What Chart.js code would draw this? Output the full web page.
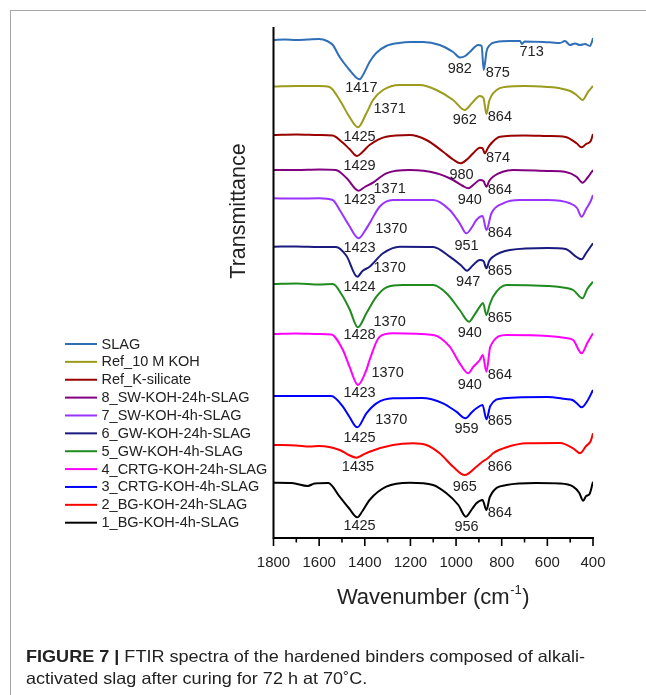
<!DOCTYPE html>
<html><head><meta charset="utf-8">
<script src="https://cdn.jsdelivr.net/npm/chart.js@4.4.1/dist/chart.umd.min.js"></script>
<style>
html,body{margin:0;padding:0;background:#fff;}
#wrap{position:relative;width:646px;height:695px;overflow:hidden;background:#fff;}
#c{position:absolute;left:0;top:0;}
#frame{position:absolute;left:10px;top:10px;width:660px;height:700px;border-top:1.5px solid #a6a6a6;border-left:1.5px solid #a6a6a6;}
#cap{position:absolute;left:26px;top:644.7px;font-family:Arial,"Liberation Sans",Helvetica,sans-serif;font-size:16.5px;line-height:22.6px;color:#222;white-space:nowrap;transform-origin:0 0;}
#cap span{display:inline-block;}
</style></head>
<body><div id="wrap"><div id="frame"></div><canvas id="c" width="646" height="695"></canvas>
<div id="cap"><span id="l1"><b>FIGURE 7 |</b> FTIR spectra of the hardened binders composed of alkali-</span><br><span>activated slag after curing for 72 h at 70˚C.</span></div></div>
<script>
// ---- data: [wavenumber (cm-1), transmittance (a.u., stacked offset)] ----
const seriesNames = ['SLAG','Ref_10 M KOH','Ref_K-silicate','8_SW-KOH-24h-SLAG','7_SW-KOH-4h-SLAG','6_GW-KOH-24h-SLAG','5_GW-KOH-4h-SLAG','4_CRTG-KOH-24h-SLAG','3_CRTG-KOH-4h-SLAG','2_BG-KOH-24h-SLAG','1_BG-KOH-4h-SLAG'];
const seriesColors = ['#2e6fb7','#9b9b1c','#990000','#800080','#9933ff','#1a1a80','#1f8b1f','#ff00ff','#0000ff','#ff0000','#000000'];

const slag = [[1800,501],[1750,501.5],[1700,501],[1650,501.5],[1600,502],[1565,500],[1540,496],[1510,484],[1467,471],[1440,464],[1423,461.7],[1408,466],[1379,479],[1350,488],[1306,495],[1250,498],[1200,499],[1145,499],[1072,496],[1013,489],[982,483.5],[960,485],[940,489],[903,496],[888,495],[879,471],[872,480],[867,489],[852,496],[823,499],[764,500],[720,500],[711,497],[700,499.5],[618,499],[580,498.5],[545,498],[523,500],[501,496],[479,497.5],[457,496],[435,497],[413,495],[405,499],[400,503]];
const ref10MKOH = [[1800,454.5],[1700,455],[1600,455],[1555,454],[1510,441],[1467,424],[1430,413.7],[1393,427.7],[1364,441],[1320,451],[1247,456],[1159,456],[1086,451],[1013,441],[962,431],[930,438],[896,445],[880,443],[867,427],[855,440],[838,447.7],[779,454.3],[700,455],[600,454],[545,452.7],[500,450],[472,446],[446,441],[421,449.3],[400,455]];
const refKSilicate = [[1800,406],[1700,406.5],[1600,406],[1541,405.5],[1500,399],[1467,392],[1434,385],[1410,389],[1379,396],[1306,404.3],[1203,406],[1130,401],[1057,389.3],[1010,381],[980,377.7],[950,382],[925,387.7],[896,393.3],[885,393],[874,387.7],[863,392],[852,396],[808,404.3],[700,405.5],[600,405],[520,404],[472,397.7],[450,393.7],[430,397],[410,400],[400,407]];
const sw24h = [[1800,371],[1700,371],[1600,371.5],[1527,371],[1480,363],[1427,350.3],[1400,354],[1364,358.3],[1306,367.7],[1203,371],[1086,367.7],[1013,361],[970,355],[947,352.7],[920,357],[896,361],[880,360],[867,354.3],[855,360],[838,364.3],[750,371],[600,370],[520,369],[472,364.3],[446,358.3],[425,363],[400,371]];
const sw4h = [[1800,342.7],[1700,342.5],[1600,342.7],[1541,341],[1510,331],[1470,316],[1427,302.7],[1400,310],[1379,317.7],[1335,334.3],[1277,341],[1100,341],[1028,331],[984,317.7],[955,307.7],[930,314],[911,321],[884,325],[867,311],[845,327.7],[794,337.7],[720,341],[600,341],[501,337.7],[470,333],[450,324.3],[430,332],[410,340],[400,346]];
const gw24h = [[1800,294.3],[1700,294.5],[1600,294],[1527,294],[1480,285],[1433,264.3],[1410,270],[1379,274.3],[1320,287.7],[1247,294.3],[1100,294],[1028,284.3],[980,276],[952,270.3],[925,276],[896,281],[880,280],[867,272.7],[855,280],[838,284.3],[764,291],[600,293],[520,292],[472,284],[450,281.7],[430,288],[400,297.7]];
const gw4h = [[1800,257],[1700,257.5],[1600,256.5],[1540,257],[1500,246],[1467,232],[1430,213.7],[1393,227.7],[1349,244.3],[1305,253.7],[1233,256],[1100,256],[1042,247.7],[984,231],[943,219.3],[920,226],[896,234.3],[882,238],[867,226],[853,236],[838,244.3],[779,256],[600,255],[545,254],[487,251],[446,242.7],[425,252],[400,259.3]];
const crtg24h = [[1800,207],[1700,207.5],[1600,207],[1547,206.5],[1496,191],[1467,174.3],[1430,156],[1393,171],[1379,181],[1335,204.3],[1277,207.7],[1100,206],[1028,194.3],[984,177.7],[947,167.7],[925,174],[896,181],[883,186],[867,169.3],[850,194.3],[779,206],[600,205],[520,203],[487,201],[450,187.7],[425,198],[400,207.7]];
const crtg4h = [[1800,145],[1700,145],[1600,145],[1547,145],[1496,134.3],[1467,124],[1433,113.7],[1393,127.7],[1349,137.7],[1277,142.7],[1150,143],[1057,137.7],[999,129.3],[959,122.7],[930,129],[911,132.7],[884,136],[867,121.7],[850,135],[794,142.7],[600,144],[520,142],[490,141],[472,138],[450,133.7],[425,140],[400,151]];
const bg24h = [[1800,96],[1700,95.5],[1642,94.5],[1600,95],[1510,91],[1470,86],[1437,83.3],[1410,86],[1379,89.3],[1277,96],[1189,97.7],[1130,96],[1072,87.7],[1013,74.3],[962,66],[911,74.3],[880,80],[867,81.7],[850,85],[838,87.7],[779,93.7],[691,97.7],[545,98],[487,92.7],[457,87.7],[430,95],[410,100],[400,107.7]];
const bg4h = [[1800,58.3],[1720,58],[1650,55],[1620,57.5],[1560,58],[1510,44.3],[1470,33],[1433,23.7],[1410,30],[1379,41],[1306,54.3],[1203,58.3],[1101,56],[1042,47.7],[990,36],[957,24.3],[930,32],[911,37.7],[884,41],[867,31],[852,44],[779,56],[650,58],[545,57.5],[487,54.3],[460,48],[443,40.3],[430,45],[415,47],[400,59.3]];
const seriesData = [slag, ref10MKOH, refKSilicate, sw24h, sw4h, gw24h, gw4h, crtg24h, crtg4h, bg24h, bg4h];

const xTickValues = [1800,1600,1400,1200,1000,800,600,400];
const xMinorTickValues = [1700,1500,1300,1100,900,700,500];

// peak labels: [text, wavenumber, transmittance]
const peakLabels = [
 ['1417',1415,452.7],['982',984,471.7],['875',817,468.3],['713',669,488.7],
 ['1371',1291,431.7],['1425',1423,404.3],['962',962,421],['864',808,423.7],
 ['1429',1423,375],['980',976,366],['874',816,382.7],
 ['1423',1423,341],['1371',1291,351.7],['940',940,341],['864',808,351],
 ['1370',1284,311.7],['1423',1423,292.7],['951',954,295],['864',808,308.3],
 ['1370',1291,272.7],['1424',1423,254.3],['947',947,259.3],['865',808,270.3],
 ['1370',1291,219.3],['1428',1423,206],['940',940,207.7],['865',808,222.7],
 ['1370',1300,167.7],['1423',1423,147.7],['940',940,156],['864',808,166],
 ['1370',1284,121],['1425',1423,102.7],['959',954,111.7],['865',808,120],
 ['1435',1430,74.3],['965',962,54.3],['866',808,74.3],
 ['1425',1423,15],['956',954,14.3],['864',808,27.7]
];

const xTitle = 'Wavenumber (cm';
const xTitleSup = '-1';
const yTitle = 'Transmittance';

const FONT = 'Arial, "Liberation Sans", Helvetica, sans-serif';

const decor = {
  id: 'decor',
  afterDraw(chart) {
    const ctx = chart.ctx, a = chart.chartArea;
    const xs = chart.scales.x, ys = chart.scales.y;
    ctx.save();
    ctx.strokeStyle = '#000'; ctx.lineWidth = 2;
    ctx.beginPath();
    ctx.moveTo(a.left, a.top); ctx.lineTo(a.left, a.bottom + 1);
    ctx.moveTo(a.left - 1, a.bottom); ctx.lineTo(a.right + 1, a.bottom);
    ctx.stroke();
    ctx.lineWidth = 1.6;
    ctx.beginPath();
    xTickValues.forEach(v => { const p = xs.getPixelForValue(v); ctx.moveTo(p, a.bottom); ctx.lineTo(p, a.bottom + 8); });
    xMinorTickValues.forEach(v => { const p = xs.getPixelForValue(v); ctx.moveTo(p, a.bottom); ctx.lineTo(p, a.bottom + 4.5); });
    ctx.stroke();
    ctx.fillStyle = '#222';
    ctx.font = '14.5px ' + FONT;
    ctx.textAlign = 'center'; ctx.textBaseline = 'middle';
    peakLabels.forEach(([t, w, v]) => ctx.fillText(t, xs.getPixelForValue(w), ys.getPixelForValue(v)));
    ctx.textAlign = 'left';
    seriesNames.forEach((n, i) => {
      const y = 344 + i * 17.87;
      ctx.strokeStyle = seriesColors[i]; ctx.lineWidth = 2;
      ctx.beginPath(); ctx.moveTo(65, y); ctx.lineTo(97, y); ctx.stroke();
      ctx.fillStyle = '#222';
      ctx.fillText(n, 101.5, y + 0.5);
    });
    ctx.save();
    ctx.translate(239, 211); ctx.rotate(-Math.PI / 2);
    ctx.font = '21.5px ' + FONT; ctx.textAlign = 'center'; ctx.textBaseline = 'middle';
    ctx.fillStyle = '#222'; ctx.fillText(yTitle, 0, 0);
    ctx.restore();
    ctx.font = '22px ' + FONT;
    const w1 = ctx.measureText(xTitle).width;
    ctx.font = '13px ' + FONT;
    const w2 = ctx.measureText(xTitleSup).width;
    ctx.font = '22px ' + FONT;
    const w3 = ctx.measureText(')').width;
    const cx = (a.left + a.right) / 2;
    const x0 = cx - (w1 + w2 + w3 + 1) / 2;
    const yb = 604;
    ctx.textBaseline = 'alphabetic'; ctx.textAlign = 'left';
    ctx.fillText(xTitle, x0, yb);
    ctx.font = '13px ' + FONT;
    ctx.fillText(xTitleSup, x0 + w1 + 0.5, yb - 10);
    ctx.font = '22px ' + FONT;
    ctx.fillText(')', x0 + w1 + w2 + 1, yb);
    ctx.restore();
  }
};

new Chart(document.getElementById('c'), {
  type: 'line',
  data: {
    datasets: seriesNames.map((n, i) => ({
      label: n,
      data: seriesData[i].map(([x, y]) => ({x, y})),
      borderColor: seriesColors[i],
      backgroundColor: seriesColors[i],
      borderWidth: 2,
      pointRadius: 0,
      fill: false,
      cubicInterpolationMode: 'monotone'
    }))
  },
  options: {
    responsive: false,
    animation: false,
    devicePixelRatio: 1,
    layout: { padding: { left: 273.5, right: 53, top: 27, bottom: 117 } },
    plugins: { legend: { display: false }, tooltip: { enabled: false } },
    scales: {
      x: {
        type: 'linear', min: 400, max: 1800, reverse: true,
        grid: { display: false, drawTicks: true, tickLength: 8 },
        border: { display: false },
        afterBuildTicks: (s) => { s.ticks = xTickValues.map(v => ({value: v})); },
        afterFit: (s) => { s.height = 40; },
        ticks: { color: '#222', font: { size: 15, family: FONT }, padding: 8, maxRotation: 0, autoSkip: false,
                 callback: (v) => String(v) }
      },
      y: { type: 'linear', min: 3, max: 514, display: false }
    }
  },
  plugins: [decor]
});

// fit caption line width to the reference (narrow-ish typeface)
(function () {
  const cap = document.getElementById('cap');
  const l1 = document.getElementById('l1');
  const w = l1.getBoundingClientRect().width;
  const target = 559;
  if (w > 0) cap.style.transform = 'scaleX(' + (target / w) + ')';
})();
</script>
</body></html>
